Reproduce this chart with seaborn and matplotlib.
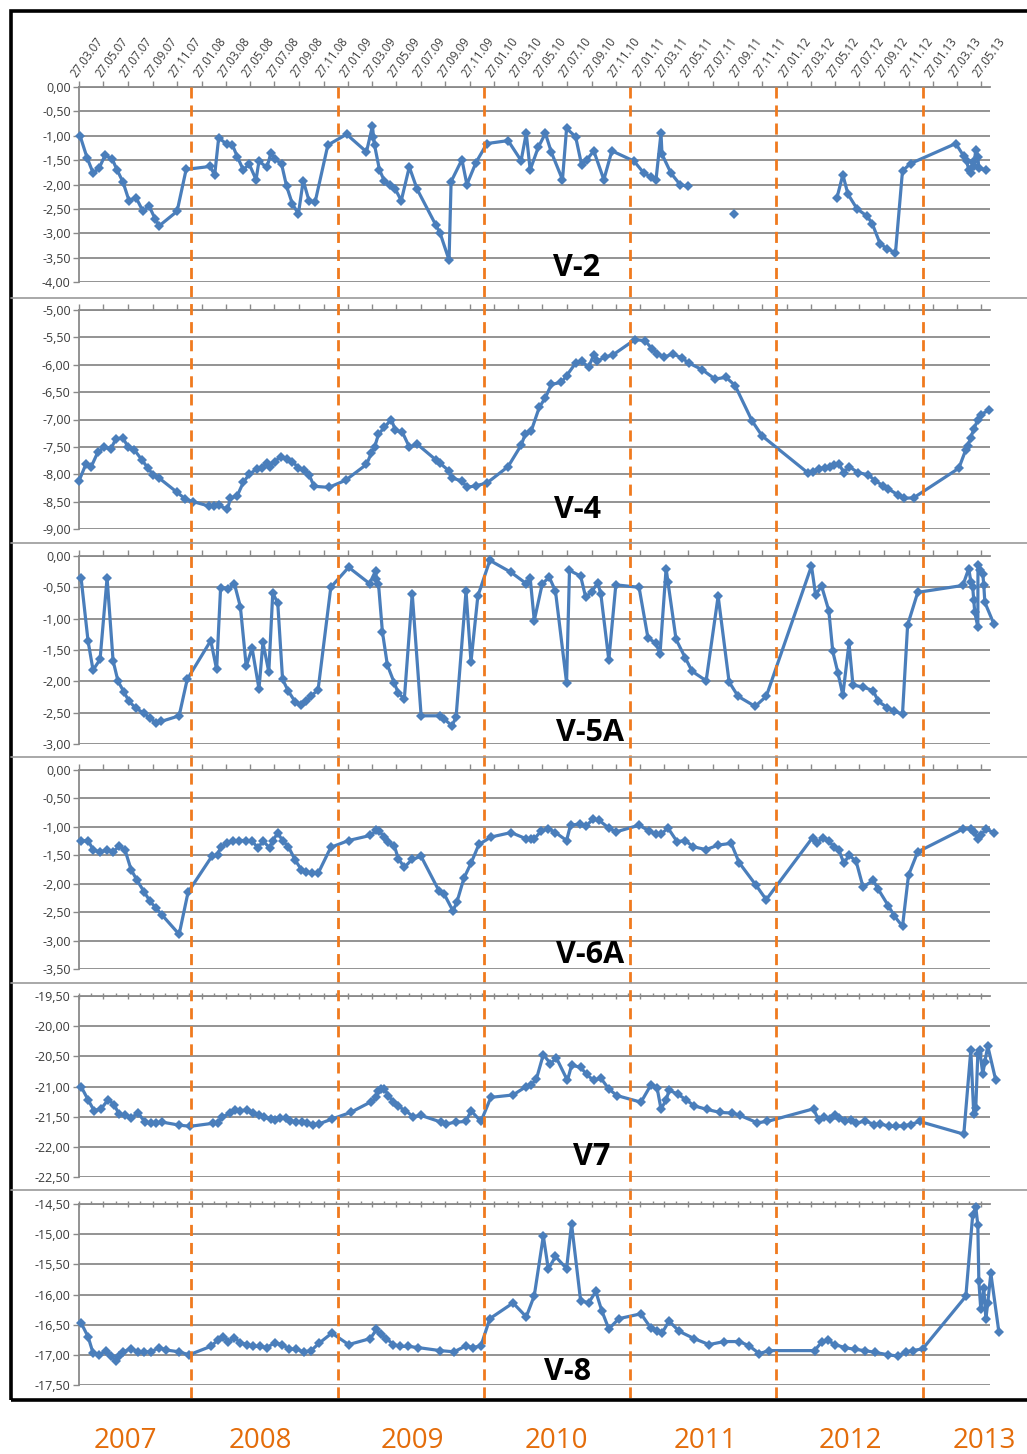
import matplotlib.pyplot as plt
import matplotlib.lines as mlines
import matplotlib.patches as mpatches
from matplotlib.ticker import FuncFormatter
import seaborn as sns
import pandas as pd
import numpy as np

sns.set_theme(style="white")
plt.rcParams['font.family'] = ['Open Sans', 'DejaVu Sans']

# --- data: time as decimal year, level in metres (nan = gap in record) ---
V2_T = [2007.240, 2007.288, 2007.329, 2007.370, 2007.411, 2007.459, 2007.493, 2007.534, 2007.575, 2007.623,
        2007.671, 2007.712, 2007.753, 2007.781, 2007.904, 2007.966, 2008.128, 2008.161, 2008.188, 2008.242,
        2008.282, 2008.315, 2008.356, 2008.396, 2008.443, 2008.463, 2008.517, 2008.544, 2008.570, 2008.617,
        2008.651, 2008.691, 2008.732, 2008.765, 2008.805, 2008.846, 2008.933, 2009.061, 2009.197, 2009.238,
        2009.245, 2009.252, 2009.286, 2009.320, 2009.361, 2009.395, 2009.435, 2009.490, 2009.544, 2009.673,
        2009.701, 2009.762, 2009.776, 2009.850, 2009.884, 2009.946, 2010.021, 2010.166, 2010.255, 2010.290,
        2010.317, 2010.372, 2010.421, 2010.462, 2010.538, 2010.566, 2010.628, 2010.669, 2010.703, 2010.752,
        2010.821, 2010.876, 2011.027, 2011.096, 2011.144, 2011.178, 2011.212, 2011.219, 2011.281, 2011.342,
        2011.397, 2011.500, 2011.712, 2012.000, 2012.414, 2012.455, 2012.490, 2012.552, 2012.621, 2012.655,
        2012.710, 2012.759, 2012.814, 2012.862, 2012.917, 2013.226, 2013.281, 2013.301, 2013.315, 2013.329,
        2013.342, 2013.349, 2013.363, 2013.377, 2013.384, 2013.432]
V2_V = [-1.00, -1.45, -1.76, -1.67, -1.40, -1.47, -1.70, -1.95, -2.33, -2.27,
        -2.55, -2.44, -2.70, -2.85, -2.55, -1.69, -1.63, -1.80, -1.04, -1.17,
        -1.19, -1.43, -1.70, -1.58, -1.90, -1.52, -1.65, -1.36, -1.47, -1.58,
        -2.03, -2.40, -2.60, -1.92, -2.34, -2.36, -1.19, -0.97, -1.33, -0.80,
        -1.02, -1.19, -1.70, -1.93, -2.00, -2.10, -2.33, -1.64, -2.10, -2.84,
        -3.00, -3.55, -1.94, -1.49, -2.00, -1.55, -1.16, -1.10, -1.51, -0.95,
        -1.70, -1.24, -0.95, -1.34, -1.90, -0.85, -1.02, -1.60, -1.50, -1.31,
        -1.90, -1.31, -1.52, -1.77, -1.85, -1.90, -0.95, -1.38, -1.77, -2.00,
        -2.04, np.nan, -2.60, np.nan, -2.28, -1.80, -2.20, -2.50, -2.65, -2.80,
        -3.22, -3.32, -3.40, -1.72, -1.57, -1.16, -1.42, -1.52, -1.70, -1.77,
        -1.53, -1.63, -1.29, -1.43, -1.67, -1.70]

V4_T = [2007.233, 2007.281, 2007.315, 2007.363, 2007.404, 2007.452, 2007.486, 2007.534, 2007.568, 2007.610,
        2007.664, 2007.705, 2007.740, 2007.781, 2007.904, 2007.959, 2008.013, 2008.121, 2008.154, 2008.188,
        2008.248, 2008.268, 2008.315, 2008.356, 2008.396, 2008.450, 2008.483, 2008.517, 2008.537, 2008.570,
        2008.611, 2008.651, 2008.691, 2008.732, 2008.772, 2008.805, 2008.839, 2008.940, 2009.054, 2009.197,
        2009.231, 2009.252, 2009.279, 2009.320, 2009.367, 2009.395, 2009.442, 2009.490, 2009.544, 2009.673,
        2009.701, 2009.762, 2009.782, 2009.850, 2009.884, 2009.946, 2010.021, 2010.166, 2010.255, 2010.283,
        2010.324, 2010.379, 2010.421, 2010.462, 2010.531, 2010.566, 2010.628, 2010.669, 2010.717, 2010.752,
        2010.772, 2010.828, 2010.883, 2011.034, 2011.103, 2011.151, 2011.185, 2011.233, 2011.295, 2011.356,
        2011.404, 2011.493, 2011.582, 2011.658, 2011.719, 2011.836, 2011.904, 2012.214, 2012.248, 2012.290,
        2012.331, 2012.366, 2012.393, 2012.428, 2012.462, 2012.497, 2012.559, 2012.628, 2012.676, 2012.731,
        2012.766, 2012.828, 2012.869, 2012.938, 2013.247, 2013.295, 2013.308, 2013.329, 2013.349, 2013.377,
        2013.397, 2013.452]
V4_V = [-8.12, -7.81, -7.87, -7.59, -7.51, -7.53, -7.35, -7.34, -7.50, -7.55,
        -7.74, -7.89, -8.01, -8.07, -8.33, -8.45, -8.50, -8.58, -8.58, -8.57,
        -8.64, -8.44, -8.39, -8.15, -8.00, -7.90, -7.88, -7.80, -7.86, -7.77,
        -7.68, -7.72, -7.77, -7.88, -7.92, -8.01, -8.22, -8.24, -8.11, -7.82,
        -7.61, -7.51, -7.27, -7.14, -7.00, -7.20, -7.23, -7.50, -7.45, -7.74,
        -7.80, -7.94, -8.07, -8.12, -8.24, -8.21, -8.16, -7.86, -7.47, -7.27,
        -7.21, -6.78, -6.60, -6.36, -6.32, -6.20, -5.97, -5.94, -6.04, -5.82,
        -5.94, -5.86, -5.82, -5.54, -5.56, -5.71, -5.80, -5.86, -5.80, -5.88,
        -5.97, -6.09, -6.26, -6.23, -6.38, -7.03, -7.30, -7.97, -7.95, -7.90,
        -7.88, -7.86, -7.84, -7.81, -7.97, -7.86, -7.97, -8.01, -8.12, -8.21,
        -8.27, -8.37, -8.44, -8.43, -7.89, -7.55, -7.49, -7.33, -7.18, -7.00,
        -6.91, -6.83]

V5A_T = [2007.247, 2007.295, 2007.329, 2007.377, 2007.425, 2007.466, 2007.500, 2007.541, 2007.575, 2007.623,
         2007.678, 2007.719, 2007.760, 2007.795, 2007.918, 2007.973, 2008.134, 2008.174, 2008.201, 2008.255,
         2008.295, 2008.336, 2008.376, 2008.416, 2008.463, 2008.490, 2008.530, 2008.557, 2008.591, 2008.624,
         2008.664, 2008.711, 2008.752, 2008.785, 2008.819, 2008.866, 2008.953, 2009.075, 2009.218, 2009.259,
         2009.265, 2009.279, 2009.306, 2009.340, 2009.388, 2009.415, 2009.456, 2009.510, 2009.571, 2009.701,
         2009.728, 2009.782, 2009.810, 2009.878, 2009.912, 2009.959, 2010.041, 2010.186, 2010.290, 2010.317,
         2010.345, 2010.400, 2010.448, 2010.490, 2010.566, 2010.586, 2010.662, 2010.697, 2010.738, 2010.779,
         2010.800, 2010.855, 2010.903, 2011.062, 2011.123, 2011.178, 2011.205, 2011.247, 2011.260, 2011.315,
         2011.377, 2011.425, 2011.521, 2011.603, 2011.678, 2011.740, 2011.856, 2011.932, 2012.241, 2012.269,
         2012.310, 2012.359, 2012.386, 2012.421, 2012.455, 2012.497, 2012.524, 2012.593, 2012.662, 2012.697,
         2012.759, 2012.807, 2012.862, 2012.897, 2012.966, 2013.274, 2013.315, 2013.329, 2013.342, 2013.349,
         2013.356, 2013.377, 2013.378, 2013.390, 2013.411, 2013.418, 2013.425, 2013.486]
V5A_V = [-0.35, -1.36, -1.82, -1.65, -0.35, -1.67, -2.00, -2.17, -2.32, -2.43,
         -2.51, -2.59, -2.66, -2.64, -2.55, -1.97, -1.35, -1.81, -0.51, -0.52,
         -0.44, -0.81, -1.76, -1.47, -2.12, -1.38, -1.85, -0.59, -0.75, -1.97,
         -2.16, -2.33, -2.37, -2.32, -2.23, -2.14, -0.50, -0.18, -0.44, -0.24,
         -0.36, -0.44, -1.21, -1.74, -2.03, -2.19, -2.28, -0.60, -2.55, -2.55,
         -2.60, -2.71, -2.57, -0.56, -1.69, -0.64, -0.07, -0.26, -0.44, -0.35,
         -1.03, -0.44, -0.34, -0.56, -2.02, -0.23, -0.32, -0.66, -0.57, -0.43,
         -0.60, -1.66, -0.46, -0.50, -1.31, -1.39, -1.57, -0.20, -0.42, -1.33,
         -1.62, -1.84, -1.99, -0.64, -2.01, -2.24, -2.40, -2.24, -0.16, -0.62,
         -0.48, -0.87, -1.52, -1.86, -2.22, -1.39, -2.06, -2.09, -2.15, -2.32,
         -2.42, -2.48, -2.52, -1.10, -0.58, -0.47, -0.20, -0.41, -0.50, -0.70,
         -0.90, -1.13, -0.15, -0.23, -0.29, -0.47, -0.74, -1.08]

V6A_T = [2007.247, 2007.295, 2007.329, 2007.377, 2007.425, 2007.466, 2007.507, 2007.548, 2007.589, 2007.630,
         2007.678, 2007.719, 2007.760, 2007.801, 2007.918, 2007.979, 2008.141, 2008.181, 2008.201, 2008.248,
         2008.289, 2008.329, 2008.376, 2008.416, 2008.456, 2008.490, 2008.537, 2008.557, 2008.591, 2008.624,
         2008.664, 2008.711, 2008.752, 2008.785, 2008.826, 2008.866, 2008.953, 2009.075, 2009.224, 2009.265,
         2009.286, 2009.320, 2009.347, 2009.388, 2009.415, 2009.456, 2009.510, 2009.571, 2009.694, 2009.728,
         2009.789, 2009.816, 2009.864, 2009.912, 2009.966, 2010.048, 2010.186, 2010.290, 2010.324, 2010.345,
         2010.393, 2010.441, 2010.490, 2010.566, 2010.593, 2010.655, 2010.697, 2010.745, 2010.786, 2010.855,
         2010.903, 2011.062, 2011.130, 2011.178, 2011.212, 2011.260, 2011.322, 2011.377, 2011.432, 2011.521,
         2011.603, 2011.692, 2011.747, 2011.863, 2011.932, 2012.248, 2012.276, 2012.317, 2012.359, 2012.393,
         2012.428, 2012.462, 2012.497, 2012.545, 2012.593, 2012.662, 2012.697, 2012.766, 2012.807, 2012.862,
         2012.903, 2012.966, 2013.274, 2013.329, 2013.349, 2013.377, 2013.397, 2013.432, 2013.486]
V6A_V = [-1.25, -1.24, -1.40, -1.45, -1.40, -1.44, -1.34, -1.41, -1.75, -1.94,
         -2.14, -2.31, -2.43, -2.55, -2.89, -2.15, -1.52, -1.50, -1.35, -1.29,
         -1.25, -1.24, -1.24, -1.25, -1.37, -1.25, -1.37, -1.24, -1.11, -1.24,
         -1.35, -1.59, -1.75, -1.79, -1.82, -1.82, -1.36, -1.24, -1.15, -1.06,
         -1.08, -1.18, -1.26, -1.34, -1.56, -1.71, -1.57, -1.52, -2.13, -2.18,
         -2.48, -2.32, -1.90, -1.64, -1.31, -1.18, -1.10, -1.21, -1.21, -1.21,
         -1.07, -1.03, -1.10, -1.24, -0.97, -0.95, -0.99, -0.87, -0.88, -1.02,
         -1.09, -0.97, -1.07, -1.13, -1.13, -1.02, -1.26, -1.24, -1.35, -1.40,
         -1.32, -1.29, -1.63, -2.03, -2.28, -1.19, -1.28, -1.20, -1.25, -1.35,
         -1.41, -1.64, -1.50, -1.60, -2.06, -1.94, -2.10, -2.39, -2.57, -2.75,
         -1.85, -1.44, -1.04, -1.03, -1.09, -1.22, -1.15, -1.04, -1.10]

V7_T = [2007.247, 2007.295, 2007.336, 2007.384, 2007.432, 2007.473, 2007.507, 2007.548, 2007.589, 2007.637,
        2007.685, 2007.726, 2007.760, 2007.801, 2007.918, 2007.993, 2008.148, 2008.181, 2008.208, 2008.268,
        2008.302, 2008.336, 2008.383, 2008.423, 2008.463, 2008.497, 2008.544, 2008.570, 2008.604, 2008.644,
        2008.678, 2008.718, 2008.758, 2008.792, 2008.832, 2008.872, 2008.960, 2009.088, 2009.231, 2009.265,
        2009.279, 2009.293, 2009.320, 2009.347, 2009.381, 2009.415, 2009.463, 2009.517, 2009.571, 2009.707,
        2009.741, 2009.810, 2009.878, 2009.912, 2009.980, 2010.048, 2010.200, 2010.290, 2010.324, 2010.359,
        2010.407, 2010.455, 2010.497, 2010.572, 2010.600, 2010.662, 2010.703, 2010.752, 2010.800, 2010.855,
        2010.910, 2011.075, 2011.144, 2011.185, 2011.212, 2011.247, 2011.267, 2011.329, 2011.384, 2011.438,
        2011.527, 2011.616, 2011.699, 2011.753, 2011.870, 2011.938, 2012.255, 2012.290, 2012.324, 2012.366,
        2012.400, 2012.428, 2012.469, 2012.510, 2012.545, 2012.607, 2012.669, 2012.710, 2012.772, 2012.821,
        2012.869, 2012.917, 2012.979, 2013.281, 2013.329, 2013.349, 2013.363, 2013.377, 2013.390, 2013.411,
        2013.425, 2013.445, 2013.500]
V7_V = [-21.00, -21.22, -21.40, -21.37, -21.22, -21.30, -21.46, -21.48, -21.52, -21.44,
        -21.59, -21.61, -21.61, -21.59, -21.64, -21.66, -21.61, -21.61, -21.51, -21.44,
        -21.39, -21.40, -21.39, -21.44, -21.48, -21.51, -21.54, -21.56, -21.53, -21.53,
        -21.57, -21.59, -21.59, -21.61, -21.63, -21.62, -21.54, -21.43, -21.25, -21.18,
        -21.07, -21.04, -21.04, -21.15, -21.26, -21.33, -21.40, -21.50, -21.48, -21.59,
        -21.62, -21.59, -21.58, -21.40, -21.58, -21.18, -21.14, -21.00, -20.97, -20.88,
        -20.47, -20.62, -20.53, -20.90, -20.65, -20.68, -20.80, -20.90, -20.86, -21.04,
        -21.15, -21.26, -20.97, -21.02, -21.37, -21.23, -21.06, -21.13, -21.22, -21.32,
        -21.38, -21.43, -21.44, -21.48, -21.60, -21.58, -21.37, -21.56, -21.50, -21.54,
        -21.47, -21.52, -21.58, -21.56, -21.61, -21.57, -21.63, -21.62, -21.66, -21.66,
        -21.65, -21.63, -21.58, -21.79, -20.40, -21.45, -21.35, -20.46, -20.40, -20.79,
        -20.59, -20.33, -20.90]

V8_T = [2007.247, 2007.295, 2007.329, 2007.370, 2007.418, 2007.452, 2007.486, 2007.507, 2007.534, 2007.589,
        2007.637, 2007.678, 2007.726, 2007.781, 2007.829, 2007.918, 2007.986, 2008.134, 2008.181, 2008.215,
        2008.255, 2008.295, 2008.336, 2008.383, 2008.423, 2008.470, 2008.517, 2008.570, 2008.617, 2008.671,
        2008.718, 2008.772, 2008.819, 2008.872, 2008.960, 2009.075, 2009.224, 2009.265, 2009.293, 2009.333,
        2009.381, 2009.429, 2009.483, 2009.551, 2009.701, 2009.796, 2009.878, 2009.925, 2009.980, 2010.041,
        2010.200, 2010.290, 2010.345, 2010.407, 2010.441, 2010.490, 2010.566, 2010.600, 2010.662, 2010.717,
        2010.766, 2010.807, 2010.855, 2010.924, 2011.075, 2011.144, 2011.185, 2011.219, 2011.267, 2011.336,
        2011.438, 2011.541, 2011.644, 2011.747, 2011.815, 2011.884, 2011.952, 2012.262, 2012.310, 2012.352,
        2012.400, 2012.469, 2012.538, 2012.607, 2012.676, 2012.766, 2012.828, 2012.883, 2012.931, 2013.000,
        2013.295, 2013.342, 2013.363, 2013.377, 2013.384, 2013.397, 2013.418, 2013.432, 2013.445, 2013.466,
        2013.521]
V8_V = [-16.47, -16.70, -16.97, -17.00, -16.93, -17.02, -17.10, -17.02, -16.95, -16.90,
        -16.95, -16.95, -16.95, -16.88, -16.92, -16.95, -17.00, -16.86, -16.76, -16.70,
        -16.78, -16.72, -16.80, -16.83, -16.86, -16.86, -16.88, -16.80, -16.83, -16.90,
        -16.91, -16.95, -16.93, -16.81, -16.64, -16.83, -16.73, -16.58, -16.66, -16.73,
        -16.83, -16.86, -16.86, -16.88, -16.93, -16.95, -16.85, -16.88, -16.85, -16.40,
        -16.14, -16.37, -16.02, -15.03, -15.58, -15.37, -15.57, -14.83, -16.10, -16.14,
        -15.95, -16.27, -16.57, -16.40, -16.32, -16.56, -16.61, -16.64, -16.44, -16.61,
        -16.73, -16.83, -16.78, -16.78, -16.85, -16.98, -16.93, -16.93, -16.79, -16.76,
        -16.83, -16.88, -16.91, -16.93, -16.96, -17.00, -17.02, -16.95, -16.93, -16.90,
        -16.03, -14.68, -14.55, -14.85, -15.78, -16.24, -15.90, -16.40, -16.14, -15.65,
        -16.62]

WELLS = ["V-2", "V-4", "V-5A", "V-6A", "V7", "V-8"]
Y_RANGES = [(0.0, -4.0), (-5.0, -9.0), (0.0, -3.0), (0.0, -3.5), (-19.5, -22.5), (-14.5, -17.5)]

TICK_LABELS = ["27.03.07", "27.05.07", "27.07.07", "27.09.07", "27.11.07",
               "27.01.08", "27.03.08", "27.05.08", "27.07.08", "27.09.08", "27.11.08",
               "27.01.09", "27.03.09", "27.05.09", "27.07.09", "27.09.09", "27.11.09",
               "27.01.10", "27.03.10", "27.05.10", "27.07.10", "27.09.10", "27.11.10",
               "27.01.11", "27.03.11", "27.05.11", "27.07.11", "27.09.11", "27.11.11",
               "27.01.12", "27.03.12", "27.05.12", "27.07.12", "27.09.12", "27.11.12",
               "27.01.13", "27.03.13", "27.05.13"]
YEAR_LINES = [2008, 2009, 2010, 2011, 2012, 2013]
YEAR_LABELS = ["2007", "2008", "2009", "2010", "2011", "2012", "2013"]

# --- layout (pixels of the 1027x1454 canvas) ---
FIG_W, FIG_H = 1027, 1454
X_LEFT, X_RIGHT = 79, 990
PANEL_BOX = [(87, 282), (310, 529), (556, 744), (770, 969), (996, 1177), (1204, 1385)]
LABEL_POS = [(577, 268), (577, 510), (590, 733), (590, 955), (592, 1157), (568, 1372)]
SEPARATORS = [298, 543, 757, 983, 1190]
YEAR_X = [125, 260, 412, 556, 705, 850, 984]

BLUE = '#4A7EBB'
GRID = '#8a8a8a'
ORANGE = '#F07A1E'
YEAR_ORANGE = '#E46C0A'


def to_date(dec):
    y = int(np.floor(dec))
    start = pd.Timestamp(year=y, month=1, day=1)
    end = pd.Timestamp(year=y + 1, month=1, day=1)
    return start + (end - start) * (dec - y)


def comma_fmt(v, pos):
    if abs(v) < 1e-9:
        v = 0.0
    return f"{v:.2f}".replace('.', ',')


series = [(V2_T, V2_V), (V4_T, V4_V), (V5A_T, V5A_V), (V6A_T, V6A_V), (V7_T, V7_V), (V8_T, V8_V)]
tick_dates = pd.to_datetime(TICK_LABELS, format='%d.%m.%y')
minor_dates = [d + pd.DateOffset(months=1) for d in tick_dates[:-1]]
x_min = pd.Timestamp('2007-03-27')
x_max = pd.Timestamp('2013-06-18')

fig = plt.figure(figsize=(FIG_W / 100, FIG_H / 100), dpi=100)
fig.patch.set_facecolor('white')


def fig_box(top, bottom):
    return [X_LEFT / FIG_W, 1 - bottom / FIG_H, (X_RIGHT - X_LEFT) / FIG_W, (bottom - top) / FIG_H]


for i, ((t, v), name, (ytop, ybot), box) in enumerate(zip(series, WELLS, Y_RANGES, PANEL_BOX)):
    ax = fig.add_axes(fig_box(*box))
    ax.set_facecolor('none')
    df = pd.DataFrame({'date': [to_date(d) for d in t], 'level': v})
    df['seg'] = df['level'].isna().cumsum()
    df = df.dropna()
    sns.lineplot(data=df, x='date', y='level', units='seg', estimator=None, sort=False,
                 color=BLUE, linewidth=2.3, marker='D', markersize=4.8, markeredgewidth=0,
                 legend=False, ax=ax, clip_on=False, zorder=3)

    ax.set_xlim(x_min, x_max)
    ax.set_ylim(ybot, ytop)
    ax.set_yticks(np.arange(ytop, ybot - 0.01, -0.5))
    ax.yaxis.set_major_formatter(FuncFormatter(comma_fmt))
    ax.yaxis.grid(True, color=GRID, linewidth=1.3)
    ax.xaxis.grid(False)
    ax.set_xlabel('')
    ax.set_ylabel('')

    for side in ['bottom', 'right']:
        ax.spines[side].set_visible(False)
    for side in ['top', 'left']:
        ax.spines[side].set_visible(True)
        ax.spines[side].set_color(GRID)
        ax.spines[side].set_linewidth(1.3)

    ax.xaxis.set_ticks_position('top')
    ax.set_xticks(tick_dates)
    ax.tick_params(axis='y', direction='out', length=4, width=1, color=GRID,
                   labelsize=9, labelcolor='#3a3a3a', pad=2, left=True)
    if i == 0:
        ax.set_xticklabels(TICK_LABELS)
        ax.tick_params(axis='x', direction='out', length=4, width=1, color=GRID,
                       labelsize=8.3, labelcolor='#3a3a3a', pad=1, top=True, bottom=False,
                       labeltop=True, labelbottom=False)
        for lab in ax.get_xticklabels():
            lab.set_rotation(54)
            lab.set_ha('left')
            lab.set_va('bottom')
            lab.set_rotation_mode('anchor')
    else:
        ax.tick_params(axis='x', direction='out' if i < 4 else 'inout', length=4, width=1,
                       color=GRID, top=True, bottom=False, labeltop=False, labelbottom=False)
        if i >= 4:
            ax.set_xticks(minor_dates, minor=True)
            ax.tick_params(axis='x', which='minor', direction='out', length=2.5, width=1,
                           color=GRID, top=True, bottom=False)

    lx, ly = LABEL_POS[i]
    fig.text(lx / FIG_W, 1 - ly / FIG_H, name, ha='center', va='center',
             fontsize=22, fontweight='bold', color='black')

# panel separators and outer frame
for y in SEPARATORS:
    fig.add_artist(mlines.Line2D([11 / FIG_W, 1.0], [1 - y / FIG_H] * 2,
                                 color='#9a9a9a', linewidth=1.2))
fig.add_artist(mpatches.Rectangle((11 / FIG_W, 1 - 1400 / FIG_H), (1050 - 11) / FIG_W,
                                  (1400 - 11) / FIG_H, fill=False, edgecolor='black',
                                  linewidth=2.6, transform=fig.transFigure))

# year boundary dashed lines across all panels
over = fig.add_axes(fig_box(87, 1398))
over.set_facecolor('none')
over.set_xlim(x_min, x_max)
over.set_ylim(0, 1)
over.axis('off')
for yr in YEAR_LINES:
    over.axvline(pd.Timestamp(year=yr, month=1, day=1), color=ORANGE, linewidth=2,
                 linestyle=(0, (4, 2.5)), zorder=5)

for lab, x in zip(YEAR_LABELS, YEAR_X):
    fig.text(x / FIG_W, 1 - 1441 / FIG_H, lab, ha='center', va='center',
             fontsize=20, color=YEAR_ORANGE)

fig.savefig('out.png', dpi=100, facecolor='white')
